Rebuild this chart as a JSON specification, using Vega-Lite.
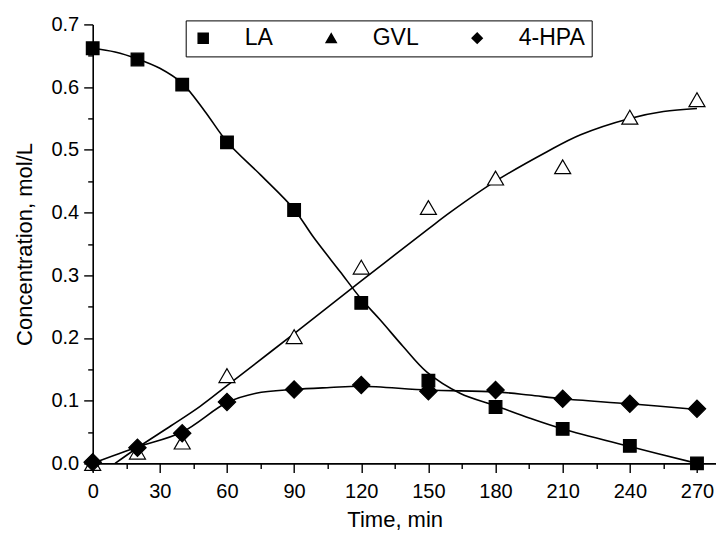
{
  "$schema": "https://vega.github.io/schema/vega-lite/v6.json",
  "autosize": "none",
  "padding": {"left": 92.7, "top": 24.4, "right": 0, "bottom": 75.6},
  "width": 623.3,
  "height": 439,
  "background": "white",
  "config": {
    "view": {"stroke": null},
    "font": "Liberation Sans",
    "axis": {
      "domainColor": "black", "domainWidth": 1.6,
      "tickColor": "black", "tickWidth": 1.4,
      "labelColor": "black", "titleColor": "black",
      "labelFont": "Liberation Sans", "titleFont": "Liberation Sans",
      "labelFontSize": 20, "titleFontSize": 22, "titleFontWeight": "normal",
      "grid": false
    }
  },
  "datasets": {
    "points": [
      {"s": "LA", "t": 0, "c": 0.662}, {"s": "LA", "t": 20, "c": 0.644}, {"s": "LA", "t": 40, "c": 0.604},
      {"s": "LA", "t": 60, "c": 0.512}, {"s": "LA", "t": 90, "c": 0.404}, {"s": "LA", "t": 120, "c": 0.256},
      {"s": "LA", "t": 150, "c": 0.132}, {"s": "LA", "t": 180, "c": 0.090}, {"s": "LA", "t": 210, "c": 0.055},
      {"s": "LA", "t": 240, "c": 0.028}, {"s": "LA", "t": 270, "c": 0.0},
      {"s": "GVL", "t": 0, "c": 0.0}, {"s": "GVL", "t": 20, "c": 0.018}, {"s": "GVL", "t": 40, "c": 0.034},
      {"s": "GVL", "t": 60, "c": 0.140}, {"s": "GVL", "t": 90, "c": 0.202}, {"s": "GVL", "t": 120, "c": 0.313},
      {"s": "GVL", "t": 150, "c": 0.408}, {"s": "GVL", "t": 180, "c": 0.455}, {"s": "GVL", "t": 210, "c": 0.473},
      {"s": "GVL", "t": 240, "c": 0.552}, {"s": "GVL", "t": 270, "c": 0.580},
      {"s": "4-HPA", "t": 0, "c": 0.002}, {"s": "4-HPA", "t": 20, "c": 0.025}, {"s": "4-HPA", "t": 40, "c": 0.048},
      {"s": "4-HPA", "t": 60, "c": 0.098}, {"s": "4-HPA", "t": 90, "c": 0.118}, {"s": "4-HPA", "t": 120, "c": 0.125},
      {"s": "4-HPA", "t": 150, "c": 0.115}, {"s": "4-HPA", "t": 180, "c": 0.117}, {"s": "4-HPA", "t": 210, "c": 0.103},
      {"s": "4-HPA", "t": 240, "c": 0.095}, {"s": "4-HPA", "t": 270, "c": 0.087}
    ],
    "curves": [
      {"s": "LA", "t": 0, "c": 0.662}, {"s": "LA", "t": 10, "c": 0.656}, {"s": "LA", "t": 20, "c": 0.645},
      {"s": "LA", "t": 30, "c": 0.630}, {"s": "LA", "t": 40, "c": 0.606}, {"s": "LA", "t": 50, "c": 0.562},
      {"s": "LA", "t": 60, "c": 0.513}, {"s": "LA", "t": 75, "c": 0.460}, {"s": "LA", "t": 90, "c": 0.405},
      {"s": "LA", "t": 98.6, "c": 0.361}, {"s": "LA", "t": 110.5, "c": 0.306}, {"s": "LA", "t": 120, "c": 0.262},
      {"s": "LA", "t": 128.4, "c": 0.229}, {"s": "LA", "t": 138.8, "c": 0.186}, {"s": "LA", "t": 149.2, "c": 0.146},
      {"s": "LA", "t": 164.1, "c": 0.112}, {"s": "LA", "t": 180, "c": 0.092}, {"s": "LA", "t": 195.4, "c": 0.072},
      {"s": "LA", "t": 210, "c": 0.055}, {"s": "LA", "t": 240, "c": 0.027}, {"s": "LA", "t": 270, "c": 0.0},
      {"s": "GVL", "t": 10, "c": 0.0}, {"s": "GVL", "t": 20, "c": 0.025}, {"s": "GVL", "t": 35, "c": 0.060},
      {"s": "GVL", "t": 48, "c": 0.091}, {"s": "GVL", "t": 60, "c": 0.124}, {"s": "GVL", "t": 90, "c": 0.207},
      {"s": "GVL", "t": 120, "c": 0.291}, {"s": "GVL", "t": 150, "c": 0.374}, {"s": "GVL", "t": 160, "c": 0.401},
      {"s": "GVL", "t": 180, "c": 0.450}, {"s": "GVL", "t": 203, "c": 0.497}, {"s": "GVL", "t": 218, "c": 0.524},
      {"s": "GVL", "t": 240, "c": 0.550}, {"s": "GVL", "t": 255, "c": 0.561}, {"s": "GVL", "t": 270, "c": 0.566},
      {"s": "4-HPA", "t": 0, "c": 0.0}, {"s": "4-HPA", "t": 20, "c": 0.026}, {"s": "4-HPA", "t": 40, "c": 0.050},
      {"s": "4-HPA", "t": 60, "c": 0.097}, {"s": "4-HPA", "t": 73, "c": 0.112}, {"s": "4-HPA", "t": 90, "c": 0.118},
      {"s": "4-HPA", "t": 106, "c": 0.121}, {"s": "4-HPA", "t": 120, "c": 0.123}, {"s": "4-HPA", "t": 150, "c": 0.117},
      {"s": "4-HPA", "t": 180, "c": 0.114}, {"s": "4-HPA", "t": 195, "c": 0.109}, {"s": "4-HPA", "t": 210, "c": 0.103},
      {"s": "4-HPA", "t": 240, "c": 0.095}, {"s": "4-HPA", "t": 270, "c": 0.086}
    ]
  },
  "encoding": {
    "x": {
      "field": "t", "type": "quantitative",
      "scale": {"domain": [0, 278.5], "nice": false, "zero": false},
      "axis": {
        "title": "Time, min",
        "values": [0, 15, 30, 45, 60, 75, 90, 105, 120, 135, 150, 165, 180, 195, 210, 225, 240, 255, 270],
        "labelExpr": "datum.value % 30 === 0 ? datum.label : ''",
        "tickSize": {"condition": {"test": "datum.value % 30 === 0", "value": 9}, "value": 5},
        "labelPadding": 9,
        "labelFlush": false,
        "labelOverlap": false,
        "titleX": 302,
        "titlePadding": 8
      }
    },
    "y": {
      "field": "c", "type": "quantitative",
      "scale": {"domain": [0, 0.7], "nice": false},
      "axis": {
        "title": "Concentration, mol/L",
        "values": [0, 0.05, 0.1, 0.15, 0.2, 0.25, 0.3, 0.35, 0.4, 0.45, 0.5, 0.55, 0.6, 0.65, 0.7],
        "labelExpr": "round(datum.value * 100) % 10 === 0 ? format(datum.value, '.1f') : ''",
        "tickSize": {"condition": {"test": "round(datum.value * 100) % 10 === 0", "value": 9}, "value": 5},
        "labelPadding": 5,
        "labelFlush": false,
        "labelOverlap": false,
        "titlePadding": 14
      }
    }
  },
  "layer": [
    {
      "data": {"name": "curves"},
      "mark": {"type": "line", "interpolate": "catmull-rom", "color": "black", "strokeWidth": 1.6},
      "encoding": {"detail": {"field": "s"}}
    },
    {
      "data": {"name": "points"},
      "mark": {"type": "point", "filled": false, "stroke": "black", "strokeWidth": 1.2, "opacity": 1},
      "encoding": {
        "shape": {
          "field": "s", "type": "nominal",
          "scale": {"domain": ["LA", "GVL", "4-HPA"], "range": ["square", "triangle-up", "diamond"]},
          "legend": {
            "orient": "none", "legendX": 93, "legendY": -4,
            "direction": "horizontal", "title": null,
            "strokeColor": "black", "fillColor": "white",
            "padding": 6,
            "labelFontSize": 23, "labelFont": "Liberation Sans", "labelColor": "black",
            "labelOffset": 30, "columnPadding": 46,
            "symbolSize": 100
          }
        },
        "fill": {
          "field": "s", "type": "nominal",
          "scale": {"domain": ["GVL", "4-HPA", "LA"], "range": ["white", "black", "black"]},
          "legend": null
        },
        "size": {
          "field": "s", "type": "nominal",
          "scale": {"type": "ordinal", "domain": ["4-HPA", "LA", "GVL"], "range": [300, 160, 256]},
          "legend": null
        }
      }
    }
  ]
}
